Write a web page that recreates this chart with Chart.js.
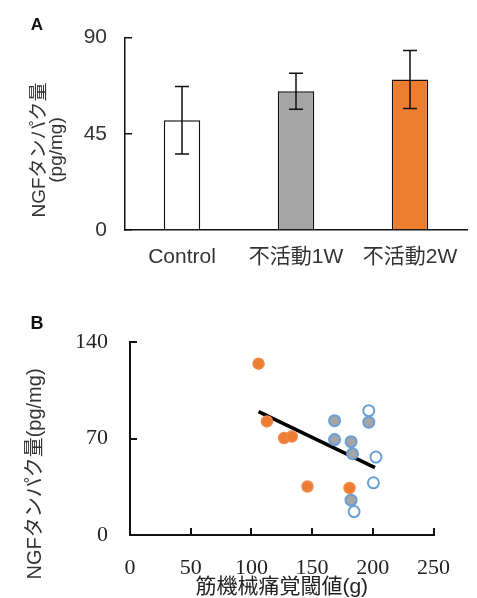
<!DOCTYPE html>
<html>
<head>
<meta charset="utf-8">
<script src="https://cdn.jsdelivr.net/npm/chart.js@4.4.0/dist/chart.umd.min.js"></script>
<style>
  body { margin: 0; background: #fff; }
  canvas { position: absolute; left: 0; }
  #chartA { top: 0; }
  #chartB { top: 300px; }
</style>
</head>
<body>
<canvas id="chartA" width="477" height="300"></canvas>
<canvas id="chartB" width="477" height="298"></canvas>
<script>
// ---------- panel A: NGF protein by group ----------
var groups = ['Control', '不活動1W', '不活動2W'];
var ngfMean = [51.3, 64.9, 70.4];
var ngfErr = [15.8, 8.4, 13.6];
var barColors = ['#ffffff', '#a5a5a5', '#ed7d31'];

// ---------- panel B: NGF vs threshold ----------
var orangeX = [105.9, 112.8, 126.9, 133.3, 146.2, 180.8];
var orangeY = [124.4, 82.5, 70.4, 71.5, 35.2, 34.1];
var grayX = [168.5, 168.5, 182.1, 183.3, 196.7, 182.1];
var grayY = [83.0, 69.3, 67.8, 59.0, 81.9, 25.3];
var openX = [196.7, 202.6, 200.5, 184.6];
var openY = [90.3, 56.6, 37.9, 17.0];
var trendX = [105.9, 201.8];
var trendY = [89.6, 48.9];

var sans = '"Liberation Sans", "Noto Sans CJK JP", sans-serif';
var serif = '"Liberation Serif", "Noto Sans CJK JP", serif';

function pts(xs, ys) {
    return xs.map(function (x, i) { return {x: x, y: ys[i]}; });
}

// error bars drawn from the y scale
var errorBars = {
    id: 'errorBars',
    afterDatasetsDraw: function (chart) {
        var ctx = chart.ctx, y = chart.scales.y;
        var meta = chart.getDatasetMeta(0);
        ctx.save();
        ctx.strokeStyle = '#111';
        ctx.lineWidth = 1.5;
        meta.data.forEach(function (bar, i) {
            var top = y.getPixelForValue(ngfMean[i] + ngfErr[i]);
            var bot = y.getPixelForValue(ngfMean[i] - ngfErr[i]);
            ctx.beginPath();
            ctx.moveTo(bar.x, top); ctx.lineTo(bar.x, bot);
            ctx.moveTo(bar.x - 7, top); ctx.lineTo(bar.x + 7, top);
            ctx.moveTo(bar.x - 7, bot); ctx.lineTo(bar.x + 7, bot);
            ctx.stroke();
        });
        ctx.restore();
    }
};

// panel letter + rotated y title
function sideText(letter, lx, ly, lfont, lines, tx, ty, tfont, lineGap) {
    return {
        id: 'sideText',
        afterDraw: function (chart) {
            var ctx = chart.ctx;
            ctx.save();
            ctx.fillStyle = '#111';
            ctx.font = lfont;
            ctx.textAlign = 'center';
            ctx.textBaseline = 'middle';
            ctx.fillText(letter, lx, ly);
            ctx.translate(tx, ty);
            ctx.rotate(-Math.PI / 2);
            ctx.font = tfont;
            ctx.fillStyle = '#333';
            lines.forEach(function (t, i) { ctx.fillText(t, 0, i * lineGap); });
            ctx.restore();
        }
    };
}

new Chart(document.getElementById('chartA'), {
    type: 'bar',
    data: {
        labels: groups,
        datasets: [{
            data: ngfMean,
            backgroundColor: barColors,
            borderColor: '#111',
            borderWidth: 1.5,
            barPercentage: 0.32,
            categoryPercentage: 1
        }]
    },
    options: {
        responsive: false,
        animation: false,
        layout: {padding: {top: 36, right: 10, left: 0, bottom: 0}},
        plugins: {legend: {display: false}, tooltip: {enabled: false}},
        scales: {
            x: {
                grid: {display: false},
                border: {color: '#111', width: 1.5},
                ticks: {color: '#333', padding: 7, font: {family: sans, size: 21}},
                afterFit: function (s) { s.height = 70; }
            },
            y: {
                min: 0, max: 90,
                grid: {drawOnChartArea: false, tickLength: -7, color: '#111', lineWidth: 1.5},
                border: {color: '#111', width: 1.5},
                ticks: {stepSize: 45, color: '#333', padding: 25, font: {family: sans, size: 21}},
                afterFit: function (s) { s.width = 125; }
            }
        }
    },
    plugins: [errorBars, sideText('A', 37, 25, 'bold 17px ' + sans,
        ['NGFタンパク量', '(pg/mg)'], 40, 150, '19px ' + sans, 17)]
});

new Chart(document.getElementById('chartB'), {
    type: 'scatter',
    data: {
        datasets: [{
            data: pts(orangeX, orangeY),
            backgroundColor: '#ed7d31',
            borderColor: '#f08a48',
            borderWidth: 1.5,
            pointRadius: 5.5
        }, {
            data: pts(grayX, grayY),
            backgroundColor: '#a5a5a5',
            borderColor: '#6a9fd6',
            borderWidth: 2,
            pointRadius: 5.5
        }, {
            data: pts(openX, openY),
            backgroundColor: '#ffffff',
            borderColor: '#6a9fd6',
            borderWidth: 2,
            pointRadius: 5.5
        }, {
            type: 'line',
            data: pts(trendX, trendY),
            borderColor: '#000',
            borderWidth: 3.5,
            pointRadius: 0,
            fill: false
        }]
    },
    options: {
        responsive: false,
        animation: false,
        layout: {padding: {top: 23, right: 22, left: 0, bottom: 0}},
        plugins: {legend: {display: false}, tooltip: {enabled: false}},
        scales: {
            x: {
                type: 'linear', min: 0, max: 250,
                grid: {drawOnChartArea: false, tickLength: -7, color: '#111', lineWidth: 2},
                border: {color: '#111', width: 2},
                ticks: {stepSize: 50, color: '#222', padding: 27, font: {family: serif, size: 22}},
                title: {display: true, text: '筋機械痛覚閾値(g)', color: '#222',
                    padding: {top: 0, bottom: 0}, font: {family: sans, size: 21, lineHeight: 1}},
                afterFit: function (s) { s.height = 63; }
            },
            y: {
                min: 0, max: 140,
                grid: {drawOnChartArea: false, tickLength: -7, color: '#111', lineWidth: 2},
                border: {color: '#111', width: 2},
                ticks: {stepSize: 70, color: '#222', padding: 29, font: {family: serif, size: 22}},
                afterFit: function (s) { s.width = 130; }
            }
        }
    },
    plugins: [sideText('B', 37, 24, 'bold 18px ' + sans,
        ['NGFタンパク量(pg/mg)'], 35, 174, '20px ' + sans, 0)]
});
</script>
</body>
</html>
